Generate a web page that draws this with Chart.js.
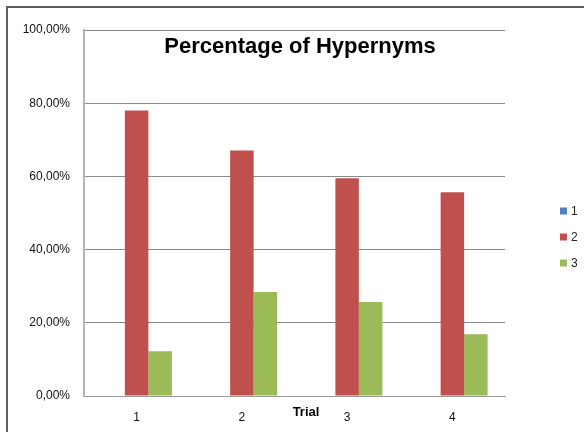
<!DOCTYPE html>
<html>
<head>
<meta charset="utf-8">
<title>Percentage of Hypernyms</title>
<script src="https://cdn.jsdelivr.net/npm/chart.js@4"></script>
<style>
    html, body {
        margin: 0;
        padding: 0;
        background: #ffffff;
        overflow: hidden;
    }
    #frame {
        position: absolute;
        left: 6px;
        top: 6px;
        width: 640px;
        height: 480px;
        border-top: 2px solid #5e5e5e;
        border-left: 2px solid #5e5e5e;
    }
    #hypernymChart {
        position: absolute;
        left: 0;
        top: 0;
    }
</style>
</head>
<body>
<div id="frame"></div>
<canvas id="hypernymChart" width="584" height="432"></canvas>
<script>
// Chart data
const trials = ['1', '2', '3', '4'];
const seriesNames = ['1', '2', '3'];
const series1 = [0, 0, 0, 0];
const series2 = [78.0, 67.1, 59.5, 55.7];
const series3 = [12.2, 28.4, 25.7, 16.9];
const yTicks = [0, 20, 40, 60, 80, 100];

const colors = ['#4F81BD', '#C0504D', '#9BBB59'];
const chartTitle = 'Percentage of Hypernyms';
const xTitle = 'Trial';

const baseFont = '"Liberation Sans", Arial, sans-serif';

// Title, axis title and legend are drawn by hand (Excel puts them in odd places)
const excelExtras = {
    id: 'excelExtras',
    afterDraw(chart) {
        const ctx = chart.ctx;
        ctx.save();

        // title inside the plot area
        ctx.fillStyle = '#000000';
        ctx.font = 'bold 22px ' + baseFont;
        ctx.textAlign = 'center';
        ctx.textBaseline = 'alphabetic';
        ctx.fillText(chartTitle, 300, 53);

        // x axis title between categories 2 and 3
        ctx.font = 'bold 13px ' + baseFont;
        ctx.textBaseline = 'middle';
        ctx.fillText(xTitle, 306, 412);

        // legend on the right
        ctx.font = '12px ' + baseFont;
        ctx.textAlign = 'left';
        const legendY = [211, 237, 263];
        chart.data.datasets.forEach((ds, i) => {
            ctx.fillStyle = ds.backgroundColor;
            ctx.fillRect(560, legendY[i] - 3.5, 7, 7);
            ctx.fillStyle = '#222222';
            ctx.fillText(ds.label, 571, legendY[i] + 1);
        });

        ctx.restore();
    }
};

function initializeChart() {
    const ctx = document.getElementById('hypernymChart');
    if (!ctx) return;

    new Chart(ctx, {
        type: 'bar',
        data: {
            labels: trials,
            datasets: [series1, series2, series3].map((values, i) => ({
                label: seriesNames[i],
                data: values,
                backgroundColor: colors[i],
                borderWidth: 0,
                categoryPercentage: 0.67,
                barPercentage: 1.0
            }))
        },
        options: {
            responsive: false,
            animation: false,
            layout: {
                padding: { left: 0, top: 30, right: 79, bottom: 0 }
            },
            plugins: {
                legend: { display: false },
                title: { display: false },
                tooltip: { enabled: false }
            },
            scales: {
                y: {
                    min: 0,
                    max: 100,
                    afterFit: scale => { scale.width = 84; },
                    afterBuildTicks: scale => {
                        scale.ticks = yTicks.map(v => ({ value: v }));
                    },
                    ticks: {
                        padding: 14,
                        color: '#111111',
                        font: { family: baseFont, size: 12 },
                        callback: v => v.toFixed(2).replace('.', ',') + '%'
                    },
                    grid: {
                        color: '#8a8a8a',
                        lineWidth: 1,
                        drawTicks: false
                    },
                    border: {
                        display: true,
                        color: '#b4b4b4',
                        width: 2
                    }
                },
                x: {
                    afterFit: scale => { scale.height = 36; },
                    ticks: {
                        padding: 14,
                        color: '#111111',
                        font: { family: baseFont, size: 12 }
                    },
                    grid: {
                        display: false,
                        drawTicks: false
                    },
                    border: {
                        display: true,
                        color: '#9a9a9a',
                        width: 1
                    }
                }
            }
        },
        plugins: [excelExtras]
    });
}

document.addEventListener('DOMContentLoaded', initializeChart);
</script>
</body>
</html>
